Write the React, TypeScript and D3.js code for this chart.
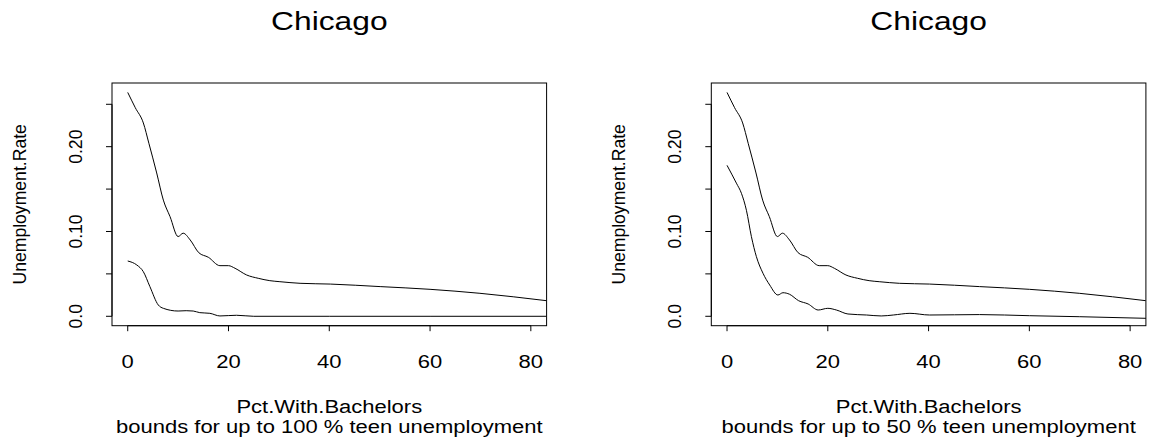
import React from "react";
import * as d3 from "d3";

// ---- data ----
const upperX = [0, 1.5, 3.1, 4.2, 5.75, 7.07, 8.4, 10.0, 11.0, 12.4, 14.1, 16.0, 18.3, 20.0, 21.3, 23.6, 25.9, 28.2, 30.2, 34.2, 40.2, 50.1, 60, 69.9, 83.1];
const upperY = [0.264, 0.246, 0.228, 0.204, 0.169, 0.137, 0.1175, 0.094, 0.098, 0.09, 0.075, 0.0696, 0.0597, 0.0597, 0.0566, 0.0487, 0.0448, 0.042, 0.0408, 0.0389, 0.038, 0.035, 0.0318, 0.0271, 0.0184];

const lowerLeftX = [0, 1.8, 3.1, 4.4, 6.07, 7.07, 10, 11.6, 13, 14.3, 16.3, 18.3, 21.6, 25, 40, 60, 83.1];
const lowerLeftY = [0.0652, 0.0605, 0.0526, 0.035, 0.0133, 0.0094, 0.0062, 0.0066, 0.0062, 0.0043, 0.0035, 0.0004, 0.0012, 0, 0, 0, 0];

const lowerRightX = [0, 1.86, 2.86, 3.85, 4.84, 5.83, 7.14, 8.47, 10.1, 11.1, 12.4, 14.2, 16.1, 18.1, 20.0, 21.7, 24.0, 27.7, 30.6, 33, 36.3, 40.2, 50.1, 60, 70, 83.2];
const lowerRightY = [0.178, 0.157, 0.145, 0.125, 0.0939, 0.0703, 0.0507, 0.0369, 0.0251, 0.0278, 0.026, 0.0184, 0.0145, 0.0074, 0.0094, 0.0074, 0.0027, 0.0015, 0.0004, 0.0015, 0.0035, 0.0015, 0.002, 0.0007, -0.0005, -0.0024];

const xTicks = [0, 20, 40, 60, 80];
const xTickLabels = ["0", "20", "40", "60", "80"];
const yTicks = [0, 0.05, 0.1, 0.15, 0.2, 0.25];
const yTickLabels = ["0.0", "", "0.10", "", "0.20", ""];

const titles = ["Chicago", "Chicago"];
const xLabel = "Pct.With.Bachelors";
const yLabel = "Unemployment.Rate";
const subs = [
  "bounds for up to 100 % teen unemployment",
  "bounds for up to 50 % teen unemployment",
];

// ---- layout ----
const W = 1149;
const H = 439;
const SX = 1.25; // horizontal widening of horizontal text
const FONT = "'Liberation Sans', Arial, Helvetica, sans-serif";
const FS = 17.6;
const TITLE_FS = 25.4;
const X_DOMAIN: [number, number] = [-3.12, 83.13];
const Y_DOMAIN: [number, number] = [-0.0111, 0.2751];
const TOP = 83;
const BOTTOM = 325.7;
const panelLefts = [112, 711.3];
const PW = 434.6;

function HText({ x, y, text, size, anchor = "middle" }: { x: number; y: number; text: string; size: number; anchor?: string }) {
  return (
    <text
      transform={`translate(${x},${y}) scale(${SX},1)`}
      textAnchor={anchor}
      fontFamily={FONT}
      fontSize={size}
      fill="#000"
    >
      {text}
    </text>
  );
}

function VText({ x, y, text, size }: { x: number; y: number; text: string; size: number }) {
  return (
    <text
      transform={`translate(${x},${y}) rotate(-90)`}
      textAnchor="middle"
      fontFamily={FONT}
      fontSize={size}
      fill="#000"
    >
      {text}
    </text>
  );
}

function Panel({ idx, lowerX, lowerY }: { idx: number; lowerX: number[]; lowerY: number[] }) {
  const left = panelLefts[idx];
  const right = left + PW;
  const x = d3.scaleLinear().domain(X_DOMAIN).range([left, right]);
  const y = d3.scaleLinear().domain(Y_DOMAIN).range([BOTTOM, TOP]);
  const line = d3
    .line<[number, number]>()
    .x((d) => x(d[0]))
    .y((d) => y(d[1]))
    .curve(d3.curveMonotoneX);
  const upper = upperX.map((v, i) => [v, upperY[i]] as [number, number]);
  const lower = lowerX.map((v, i) => [v, lowerY[i]] as [number, number]);
  const clipId = `clip${idx}`;
  const cx = (left + right) / 2;
  const cy = (TOP + BOTTOM) / 2;
  const off = left - panelLefts[0];
  return (
    <g>
      <defs>
        <clipPath id={clipId}>
          <rect x={left} y={TOP} width={PW} height={BOTTOM - TOP} />
        </clipPath>
      </defs>
      <g clipPath={`url(#${clipId})`} fill="none" stroke="#000" strokeWidth={1}>
        <path d={line(upper) || ""} />
        <path d={line(lower) || ""} />
      </g>
      <rect x={left} y={TOP} width={PW} height={BOTTOM - TOP} fill="none" stroke="#000" strokeWidth={1} />
      {/* x axis */}
      <line x1={x(xTicks[0])} x2={x(xTicks[xTicks.length - 1])} y1={BOTTOM} y2={BOTTOM} stroke="#000" />
      {xTicks.map((t, i) => (
        <g key={`xt${i}`}>
          <line x1={x(t)} x2={x(t)} y1={BOTTOM} y2={BOTTOM + 5.5} stroke="#000" />
          <HText x={x(t)} y={367.5} text={xTickLabels[i]} size={FS} />
        </g>
      ))}
      {/* y axis */}
      <line x1={left} x2={left} y1={y(yTicks[0])} y2={y(yTicks[yTicks.length - 1])} stroke="#000" />
      {yTicks.map((t, i) => (
        <g key={`yt${i}`}>
          <line x1={left - 6} x2={left} y1={y(t)} y2={y(t)} stroke="#000" />
          {yTickLabels[i] ? <VText x={82 + off} y={y(t)} text={yTickLabels[i]} size={FS} /> : null}
        </g>
      ))}
      <VText x={26 + off} y={cy} text={yLabel} size={FS} />
      <HText x={cx} y={30} text={titles[idx]} size={TITLE_FS} />
      <HText x={cx} y={412.5} text={xLabel} size={FS} />
      <HText x={cx} y={433} text={subs[idx]} size={FS} />
    </g>
  );
}

export default function App() {
  return (
    <svg
      width={W}
      height={H}
      style={{ position: "absolute", left: 0, top: 0, display: "block", background: "#fff" }}
    >
      <rect x={0} y={0} width={W} height={H} fill="#fff" />
      <Panel idx={0} lowerX={lowerLeftX} lowerY={lowerLeftY} />
      <Panel idx={1} lowerX={lowerRightX} lowerY={lowerRightY} />
    </svg>
  );
}
